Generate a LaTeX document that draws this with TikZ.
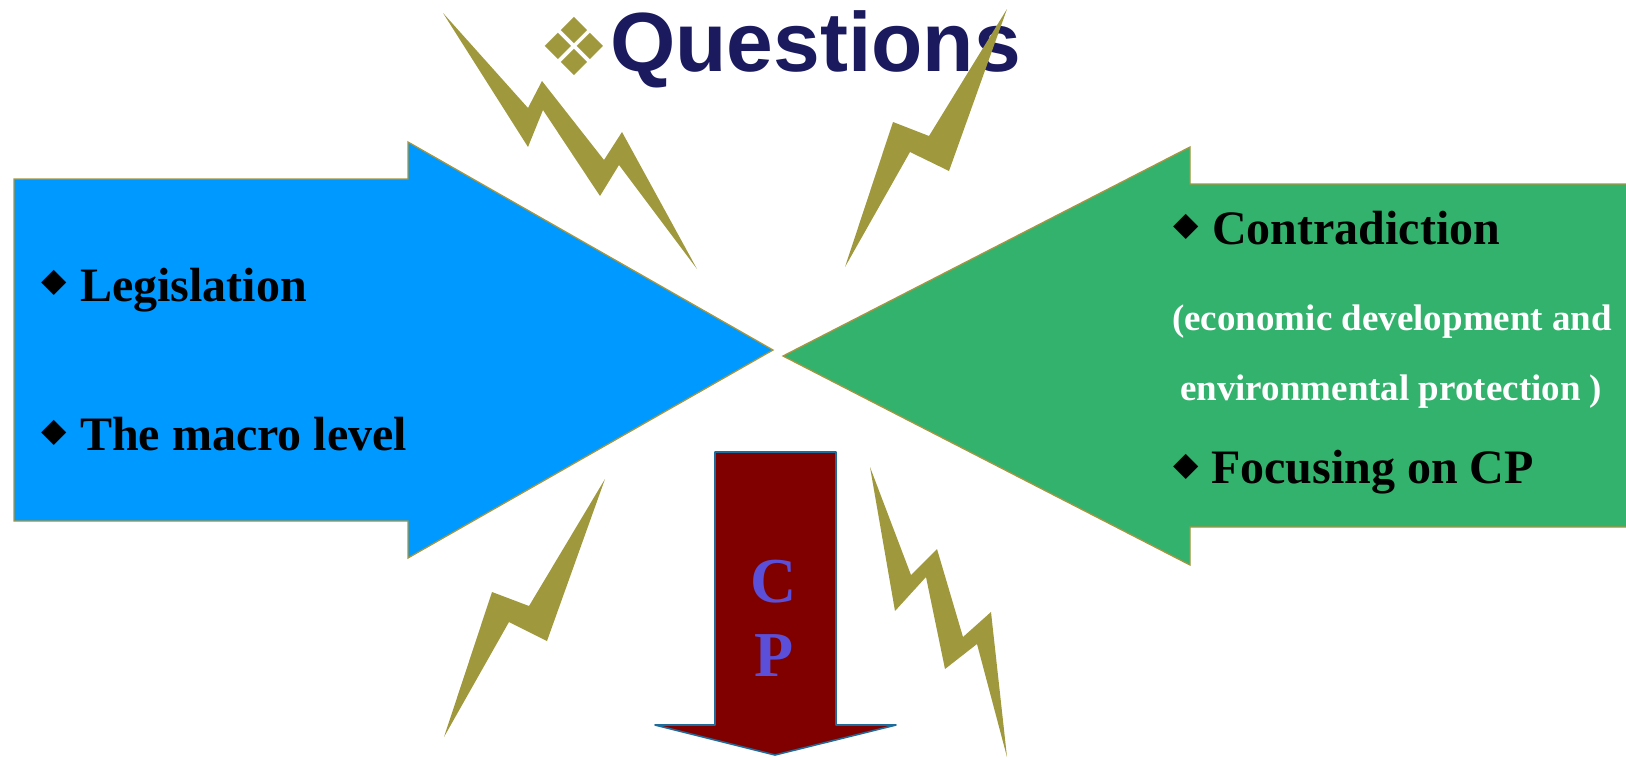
\documentclass[tikz,border=0pt]{standalone}
\usepackage{fontspec}
\setmainfont{Liberation Serif}
\newfontfamily\headfont{Liberation Sans}
\newfontfamily\symbolfont{DejaVu Sans}
\usepackage{xcolor}
\usetikzlibrary{positioning}
\definecolor{titlenavy}{HTML}{1B1A5E}
\definecolor{boltolive}{HTML}{A0983C}
\definecolor{edgeolive}{HTML}{A69640}
\definecolor{leftblue}{HTML}{0099FF}
\definecolor{rightgreen}{HTML}{33B26D}
\definecolor{cpmaroon}{HTML}{800000}
\definecolor{cpedge}{HTML}{1F6B9A}
\definecolor{cpletter}{HTML}{5B4FD9}
\tikzstyle{bolt} = [fill=boltolive, draw=none]
\tikzstyle{bigarrow} = [draw=edgeolive, line width=1.3pt, line join=miter]
\tikzstyle{itemtext} = [font=\fontsize{48}{58}\selectfont\bfseries, inner sep=0pt, anchor=base west]
\tikzstyle{notetext} = [font=\fontsize{37}{44}\selectfont\bfseries, text=white, inner sep=0pt, anchor=base west]
\tikzstyle{itembullet} = [font=\symbolfont\fontsize{33}{33}\selectfont, inner sep=0pt]
\tikzstyle{cptext} = [font=\fontsize{64}{74}\selectfont\bfseries, text=cpletter, inner sep=0pt]

\begin{document}
\begin{tikzpicture}[x=1pt, y=-1pt]
    \useasboundingbox (0,0) rectangle (1626,758);

    % Title
    \node[font=\symbolfont\fontsize{80}{80}\selectfont, text=boltolive, inner sep=0pt] (mark) at (574,46.5) {❖};
    \node[font=\headfont\fontsize{84}{90}\selectfont\bfseries, text=titlenavy, inner sep=0pt, anchor=base west] (title) at (610,71) {Questions};

    % Left arrow (pointing right)
    \path[bigarrow, fill=leftblue] (14,179) -- (408,179) -- (408,142) -- (773,350)
        -- (408,558) -- (408,521) -- (14,521) -- cycle;
    \node[itembullet] (lb1) at (54,283) {◆};
    \node[itemtext] (legis) at (80,301.5) {Legislation};
    \node[itembullet] (lb2) at (54,432.5) {◆};
    \node[itemtext] (macro) at (80,450.5) {The macro level};

    % Right arrow (pointing left)
    \path[bigarrow, fill=rightgreen] (1632,184) -- (1190,184) -- (1190,147) -- (783,356)
        -- (1190,565) -- (1190,527) -- (1632,527) -- cycle;
    \node[itembullet] (rb1) at (1186,226.7) {◆};
    \node[itemtext] (contra) at (1212,244) {Contradiction};
    \node[notetext] (econ) at (1172,330.7) {(economic development and};
    \node[notetext] (envir) at (1180,400) {environmental protection )};
    \node[itembullet] (rb2) at (1186,466.7) {◆};
    \node[itemtext] (focus) at (1211,483.3) {Focusing on CP};

    % Lightning bolts
    \fill[bolt] (443,13) -- (528,108) -- (542,81) -- (604,160) -- (622,132) -- (697,269)
        -- (619,165) -- (600,196) -- (543,110) -- (528,147) -- cycle;
    \fill[bolt] (1007,9) -- (929,136) -- (893,122) -- (845,267) -- (910,152) -- (949,171) -- cycle;
    \fill[bolt] (605,479) -- (529,606) -- (492,592) -- (444,737) -- (509,622) -- (547,641) -- cycle;
    \fill[bolt] (870,467) -- (911,575) -- (937,549) -- (963,637) -- (991,612) -- (1007,757)
        -- (977,644) -- (945,669) -- (926,577) -- (895,611) -- cycle;

    % CP arrow (pointing down)
    \path[draw=cpedge, line width=1.6pt, fill=cpmaroon, line join=round] (715,452) -- (836,452) -- (836,725)
        -- (896,725) -- (775,755) -- (655,725) -- (715,725) -- cycle;
    \node[cptext, anchor=base] (cpc) at (774,602.5) {C};
    \node[cptext, below=31pt of cpc] (cpp) {P};

\end{tikzpicture}
\end{document}
